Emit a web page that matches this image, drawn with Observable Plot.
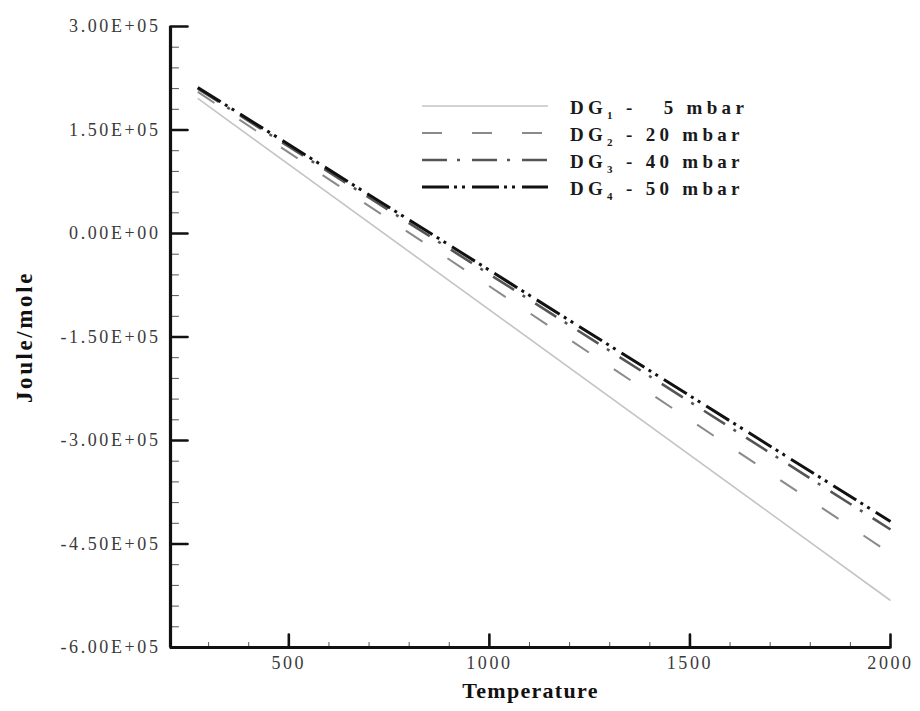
<!DOCTYPE html>
<html>
<head>
<meta charset="utf-8">
<script src="https://cdn.jsdelivr.net/npm/d3@7"></script>
<script src="https://cdn.jsdelivr.net/npm/@observablehq/plot@0.6"></script>
<style>
  body { margin: 0; background: #fff; }
  #wrap { position: relative; width: 920px; height: 711px; }
  #wrap svg.plot { font-family: "Liberation Serif", "Times New Roman", serif; }
  #wrap svg.plot g[aria-label$="tick label"] {
    font-size: 18px; letter-spacing: 2.6px; fill: #3a3a3a;
  }
  #wrap svg.plot g[aria-label="x-axis label"] {
    font-weight: bold; font-size: 22px; letter-spacing: 1.3px; fill: #111;
  }
  #wrap svg.plot g[aria-label="y-axis label"] {
    font-weight: bold; font-size: 23px; letter-spacing: 2.6px; fill: #111;
  }
  #legend { position: absolute; left: 0; top: 0; pointer-events: none; }
</style>
</head>
<body>
<div id="wrap"></div>
<script>
// ---- data ----
const temperature = [273, 2000];               // K, start and end of each line
const dg1_5mbar  = [195700, -531900];          // Joule/mole
const dg2_20mbar = [205200, -463800];
const dg3_40mbar = [210000, -429000];
const dg4_50mbar = [211600, -417400];

const seriesNames = ["DG1", "DG2", "DG3", "DG4"];
const seriesSubs = ["1", "2", "3", "4"];
const seriesPressures = ["  5", "20", "40", "50"];   // mbar
const seriesValues = [dg1_5mbar, dg2_20mbar, dg3_40mbar, dg4_50mbar];

const xDomain = [205, 2000];
const yDomain = [-600000, 300000];
const xMajorTicks = [500, 1000, 1500, 2000];
const xMinorTicks = [300, 400, 600, 700, 800, 900, 1100, 1200, 1300, 1400, 1600, 1700, 1800, 1900];
const yMajorTicks = [-600000, -450000, -300000, -150000, 0, 150000, 300000];
const yMinorTicks = [-570000, -540000, -510000, -480000, -420000, -390000, -360000, -330000,
  -270000, -240000, -210000, -180000, -120000, -90000, -60000, -30000,
  30000, 60000, 90000, 120000, 180000, 210000, 240000, 270000];

// ---- styles (kept apart from data) ----
const styles = {
  DG1: { stroke: "#c4c4c4", width: 1.6, dash: null },
  DG2: { stroke: "#8a8a8a", width: 2, dash: "20,30" },
  DG3: { stroke: "#555555", width: 2.6, dash: "25,10,3,12" },
  DG4: { stroke: "#111111", width: 3, dash: "27,5,3,5,3,7" }
};

const rows = seriesNames.flatMap((name, i) =>
  temperature.map((t, j) => ({ series: name, T: t, G: seriesValues[i][j] }))
);

function sci(v) {
  if (v === 0) return "0.00E+00";
  const e = Math.floor(Math.log10(Math.abs(v)));
  const m = (v / Math.pow(10, e)).toFixed(2);
  return `${m}E${e >= 0 ? "+" : "-"}${String(Math.abs(e)).padStart(2, "0")}`;
}

// a straight tick drawn from the anchor point along the vector direction
const tickShape = { draw(context, l) { context.moveTo(0, 0); context.lineTo(0, -l); } };

const lines = seriesNames.map(name => Plot.line(rows.filter(r => r.series === name), {
  x: "T", y: "G",
  stroke: styles[name].stroke,
  strokeWidth: styles[name].width,
  strokeDasharray: styles[name].dash,
  strokeLinecap: "butt"
}));

const chart = Plot.plot({
  width: 920,
  height: 711,
  marginLeft: 170,
  marginRight: 30,
  marginTop: 26,
  marginBottom: 64,
  style: { background: "#fff", color: "#111" },
  x: { domain: xDomain },
  y: { domain: yDomain },
  marks: [
    ...lines,
    // y axis labels
    Plot.axisY(yMajorTicks, { tickSize: 0, tickPadding: 10, tickFormat: sci,
      label: "Joule/mole", labelAnchor: "center", labelArrow: "none", labelOffset: 155 }),
    // x axis labels
    Plot.axisX(xMajorTicks, { tickSize: 0, tickPadding: 9, tickFormat: d => String(d),
      label: "Temperature", labelAnchor: "center", labelArrow: "none", labelOffset: 50 }),
    // inward ticks
    Plot.vector(yMajorTicks, { x: () => xDomain[0], y: d => d, length: 17, rotate: 90, anchor: "start",
      shape: tickShape, stroke: "#111", strokeWidth: 2.6 }),
    Plot.vector(yMinorTicks, { x: () => xDomain[0], y: d => d, length: 8, rotate: 90, anchor: "start",
      shape: tickShape, stroke: "#555", strokeWidth: 1 }),
    Plot.vector(xMajorTicks, { x: d => d, y: () => yDomain[0], length: 13, rotate: 0, anchor: "start",
      shape: tickShape, stroke: "#111", strokeWidth: 2.6 }),
    Plot.vector(xMinorTicks, { x: d => d, y: () => yDomain[0], length: 5, rotate: 0, anchor: "start",
      shape: tickShape, stroke: "#555", strokeWidth: 1 }),
    // axis lines
    Plot.ruleX([xDomain[0]], { strokeWidth: 3.2, stroke: "#111" }),
    Plot.ruleY([yDomain[0]], { strokeWidth: 3.2, stroke: "#111" })
  ]
});
chart.classList.add("plot");
document.getElementById("wrap").appendChild(chart);

// ---- legend overlay ----
const legend = d3.select("#wrap").append("svg")
  .attr("id", "legend").attr("width", 920).attr("height", 711);
const rowY0 = 106, rowStep = 27;
seriesNames.forEach((name, i) => {
  const y = rowY0 + i * rowStep;
  legend.append("line")
    .attr("x1", 422).attr("x2", 548).attr("y1", y).attr("y2", y)
    .attr("stroke", styles[name].stroke)
    .attr("stroke-width", styles[name].width)
    .attr("stroke-dasharray", styles[name].dash);
  const t = legend.append("text")
    .attr("x", 570).attr("y", y + 8)
    .attr("font-family", "Liberation Serif, Times New Roman, serif")
    .attr("font-weight", "bold").attr("font-size", 19)
    .attr("letter-spacing", "4.3px")
    .attr("fill", "#1a1a1a")
    .style("white-space", "pre");
  t.append("tspan").text("DG");
  t.append("tspan").attr("dy", 5).attr("font-size", 11).text(seriesSubs[i]);
  t.append("tspan").attr("dy", -5).text(` - ${seriesPressures[i]} mbar`);
});
</script>
</body>
</html>
